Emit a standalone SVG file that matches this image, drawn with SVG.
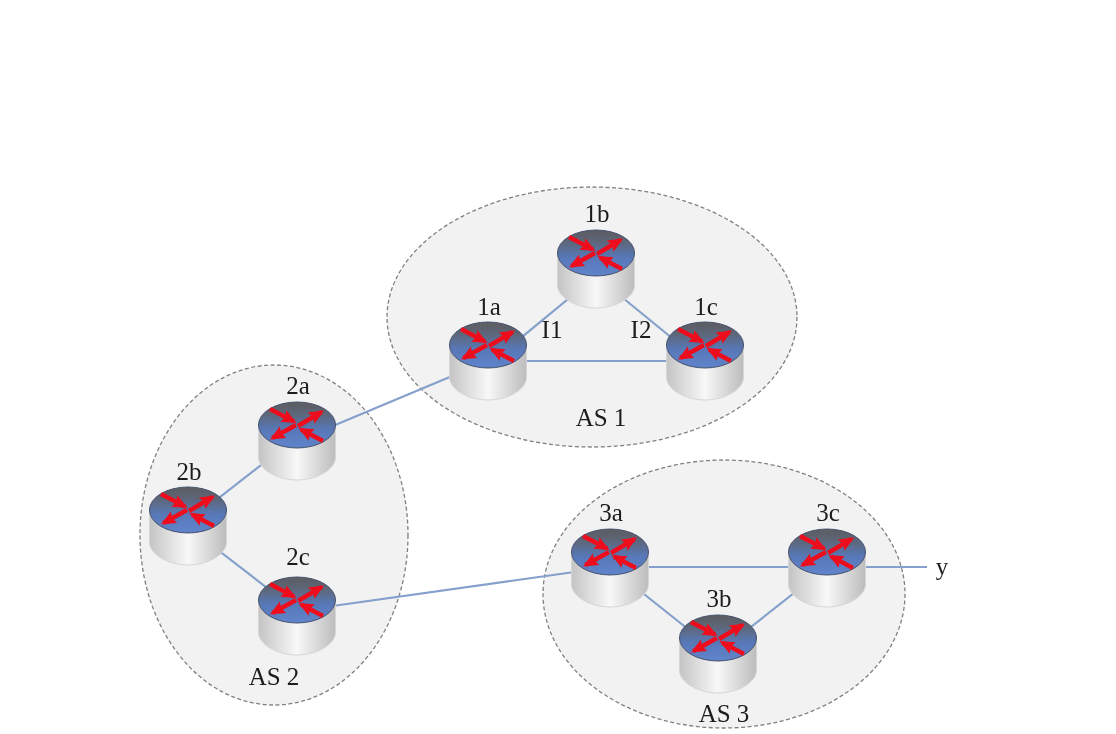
<svg xmlns="http://www.w3.org/2000/svg" width="1116" height="734" viewBox="0 0 1116 734">
<style>
.as{fill:#f2f2f2;stroke:#808080;stroke-width:1.3;stroke-dasharray:4 2.5}
.link{stroke:#84a0cb;stroke-width:2.2;fill:none}
.lbl{font-family:"Liberation Serif",serif;font-size:25px;fill:#1c1c1c;text-anchor:middle}
.arw{stroke:#ee0f1c;stroke-width:4.500;fill:none;marker-end:url(#h)}
</style>
<defs>
<filter id="soft" x="-5%" y="-5%" width="110%" height="110%"><feGaussianBlur stdDeviation="0.75"/></filter>
<marker id="h" markerUnits="userSpaceOnUse" markerWidth="18" markerHeight="16" refX="12" refY="8" orient="auto"><path d="M0,1.500 L15,8 L0,14.500 L2,8Z" fill="#ee0f1c"/></marker>
<linearGradient id="side" x1="0" x2="1" y1="0" y2="0">
<stop offset="0" stop-color="#c4c4c4"/><stop offset=".5" stop-color="#f8f8f8"/><stop offset="1" stop-color="#bcbcbc"/>
</linearGradient>
<linearGradient id="top" x1="0" x2="0" y1="0" y2="1">
<stop offset="0" stop-color="#5c5c60"/><stop offset=".25" stop-color="#5d6678"/><stop offset=".6" stop-color="#5878b8"/><stop offset="1" stop-color="#5f84cc"/>
</linearGradient>
<g id="router">
<path d="M-38.500,0 V32 C-38.500,45 -19,55 0,55 C19,55 38.500,45 38.500,32 V0Z" fill="url(#side)" stroke="#d6d6d6" stroke-width="1"/>
<ellipse rx="38.500" ry="23" fill="url(#top)" stroke="#44506c" stroke-width="1"/>
<path class="arw" d="M-27,-16 L-3,-3.500"/>
<path class="arw" d="M1,1 L24.500,-13"/>
<path class="arw" d="M-1,0 L-24.500,13"/>
<path class="arw" d="M26,16 L4,4.500"/>
</g>
</defs>
<rect width="1116" height="734" fill="#fff"/>
<g filter="url(#soft)">
<g id="areas">
<ellipse id="as1" class="as" cx="592" cy="317" rx="205" ry="130"/>
<ellipse id="as2" class="as" cx="274" cy="535" rx="134" ry="170"/>
<ellipse id="as3" class="as" cx="724" cy="594" rx="181" ry="134"/>
</g>
<g id="connectors">
<path class="link" d="M488,365 L596,276"/>
<path class="link" d="M596,276 L705,365"/>
<path class="link" d="M488,361 H705"/>
<path class="link" d="M297,441 L488,361"/>
<path class="link" d="M297,437 L188,522"/>
<path class="link" d="M188,527 L297,611"/>
<path class="link" d="M297,611 L610,567"/>
<path class="link" d="M610,567 H827"/>
<path class="link" d="M610,567 L718,653"/>
<path class="link" d="M718,653 L827,567"/>
<path class="link" d="M827,567 H927"/>
</g>
<g id="n1a"><use href="#router" x="488" y="345"/><text class="lbl" x="489" y="315">1a</text></g>
<g id="n1b"><use href="#router" x="596" y="253"/><text class="lbl" x="597" y="222">1b</text></g>
<g id="n1c"><use href="#router" x="705" y="345"/><text class="lbl" x="706" y="315">1c</text></g>
<g id="n2a"><use href="#router" x="297" y="425"/><text class="lbl" x="298" y="394">2a</text></g>
<g id="n2b"><use href="#router" x="188" y="510"/><text class="lbl" x="189" y="480">2b</text></g>
<g id="n2c"><use href="#router" x="297" y="600"/><text class="lbl" x="298" y="565">2c</text></g>
<g id="n3a"><use href="#router" x="610" y="552"/><text class="lbl" x="611" y="521">3a</text></g>
<g id="n3b"><use href="#router" x="718" y="638"/><text class="lbl" x="719" y="607">3b</text></g>
<g id="n3c"><use href="#router" x="827" y="552"/><text class="lbl" x="828" y="521">3c</text></g>
<g id="labels">
<text class="lbl" x="552" y="338">I1</text>
<text class="lbl" x="641" y="338">I2</text>
<text class="lbl" x="601" y="426">AS 1</text>
<text class="lbl" x="274" y="685">AS 2</text>
<text class="lbl" x="724" y="722">AS 3</text>
<text class="lbl" x="942" y="575">y</text>
</g>
</g>
</svg>
